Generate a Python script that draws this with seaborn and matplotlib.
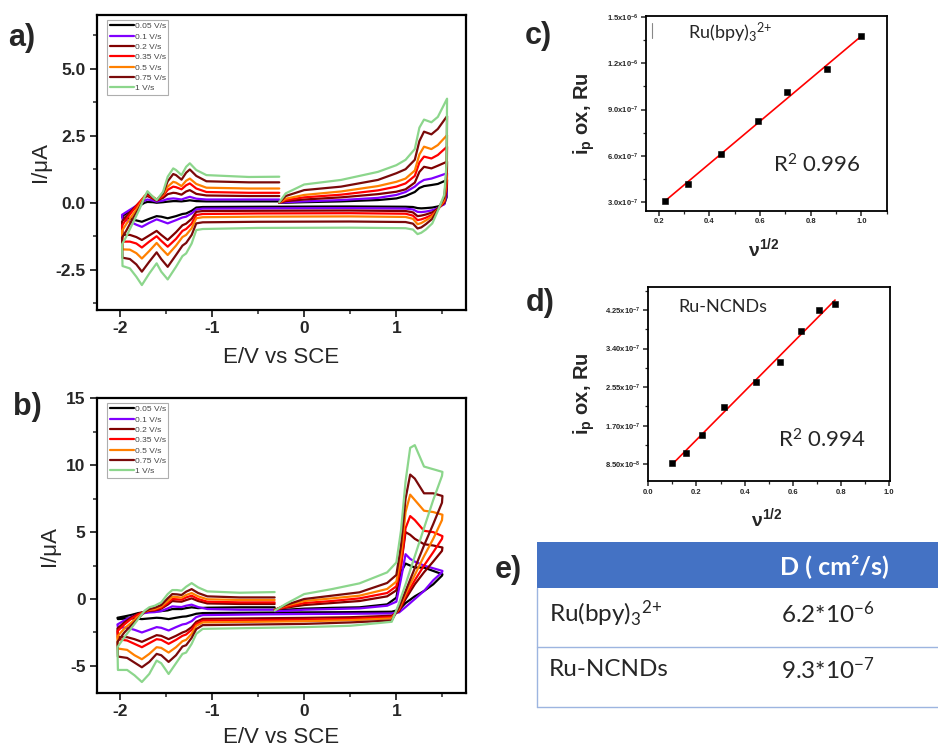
import numpy as np
import pandas as pd
import matplotlib
matplotlib.use("Agg")
import matplotlib.pyplot as plt
from matplotlib.patches import Rectangle
from matplotlib.ticker import MultipleLocator
import seaborn as sns

# ---------------- data ----------------
rates = ['0.05 V/s', '0.1 V/s', '0.2 V/s', '0.35 V/s', '0.5 V/s', '0.75 V/s', '1 V/s']
colors = ['#000000', '#8000FF', '#800000', '#FF0000', '#FF8000', '#7A0A0A', '#8CD68C']

# panel a: potential path of the CV scan (V vs SCE)
E_a = [-0.27, -0.2, 0.0, 0.4, 0.8, 1.0, 1.1, 1.2, 1.25, 1.3, 1.38, 1.45, 1.55,
       1.545, 1.52, 1.45, 1.39, 1.32, 1.27, 1.23, 1.18, 1.1, 0.5, -0.5, -1.1, -1.17, -1.22,
       -1.28, -1.32, -1.39, -1.48, -1.55, -1.6, -1.68, -1.76, -1.82, -1.89, -1.97,
       -1.975, -1.93, -1.86, -1.79, -1.73, -1.7, -1.64, -1.6, -1.53, -1.48, -1.42, -1.39,
       -1.33, -1.28, -1.24, -1.17, -1.06, -0.6, -0.27]
Ia_005 = [0.0, 0.0, 0.02, 0.05, 0.1, 0.16, 0.25, 0.4, 0.55, 0.62, 0.66, 0.7, 0.85,
          0.2, -0.05, -0.14, -0.18, -0.2, -0.21, -0.2, -0.16, -0.15, -0.14, -0.15, -0.16, -0.18,
          -0.3, -0.4, -0.42, -0.5, -0.58, -0.52, -0.5, -0.6, -0.71, -0.66, -0.6, -0.55,
          -0.5, -0.4, -0.25, -0.12, 0.0, 0.03, 0.02, 0.0, 0.02, 0.04, 0.06, 0.06, 0.05, 0.07,
          0.09, 0.06, 0.05, 0.05, 0.05]
Ia_010 = [0.0, 0.02, 0.05, 0.1, 0.18, 0.29, 0.4, 0.6, 0.75, 0.85, 0.9, 0.98, 1.1,
          0.3, -0.05, -0.2, -0.28, -0.33, -0.35, -0.34, -0.25, -0.22, -0.2, -0.21, -0.22, -0.25,
          -0.4, -0.52, -0.55, -0.65, -0.77, -0.68, -0.62, -0.75, -0.9, -0.82, -0.7, -0.62,
          -0.45, -0.35, -0.2, -0.05, 0.08, 0.12, 0.08, 0.04, 0.08, 0.14, 0.16, 0.15, 0.12, 0.18,
          0.22, 0.15, 0.12, 0.12, 0.12]
Ia_020 = [0.0, 0.06, 0.12, 0.2, 0.32, 0.41, 0.5, 0.75, 1.15, 1.34, 1.28, 1.38, 1.53,
          0.5, 0.0, -0.22, -0.36, -0.44, -0.48, -0.5, -0.36, -0.31, -0.29, -0.3, -0.31, -0.34,
          -0.6, -0.78, -0.84, -1.1, -1.39, -1.2, -1.05, -1.22, -1.39, -1.28, -1.2, -1.2,
          -0.7, -0.5, -0.25, 0.0, 0.2, 0.25, 0.15, 0.08, 0.18, 0.32, 0.37, 0.36, 0.3, 0.42,
          0.47, 0.33, 0.27, 0.25, 0.25]
Ia_035 = [0.0, 0.1, 0.2, 0.3, 0.46, 0.6, 0.72, 1.0, 1.5, 1.72, 1.65, 1.78, 2.09,
          0.7, 0.05, -0.25, -0.45, -0.56, -0.62, -0.65, -0.48, -0.41, -0.39, -0.4, -0.42, -0.46,
          -0.78, -0.98, -1.05, -1.35, -1.64, -1.42, -1.25, -1.45, -1.67, -1.52, -1.45, -1.45,
          -0.85, -0.62, -0.3, 0.0, 0.25, 0.3, 0.18, 0.1, 0.25, 0.48, 0.6, 0.58, 0.5, 0.65,
          0.72, 0.53, 0.4, 0.37, 0.37]
Ia_050 = [0.0, 0.15, 0.29, 0.42, 0.62, 0.78, 0.9, 1.2, 1.8, 2.09, 2.0, 2.15, 2.52,
          0.9, 0.1, -0.25, -0.5, -0.66, -0.76, -0.8, -0.6, -0.53, -0.51, -0.52, -0.54, -0.58,
          -0.95, -1.2, -1.28, -1.6, -1.95, -1.7, -1.5, -1.8, -2.08, -1.88, -1.75, -1.74,
          -1.05, -0.8, -0.45, -0.1, 0.25, 0.37, 0.22, 0.12, 0.3, 0.6, 0.78, 0.75, 0.62, 0.82,
          0.9, 0.7, 0.56, 0.53, 0.53]
Ia_075 = [0.0, 0.25, 0.47, 0.6, 0.85, 1.1, 1.25, 1.6, 2.3, 2.65, 2.55, 2.75, 3.23,
          1.2, 0.2, -0.25, -0.6, -0.8, -0.92, -0.96, -0.78, -0.72, -0.7, -0.71, -0.73, -0.77,
          -1.2, -1.5, -1.6, -1.95, -2.39, -2.1, -1.85, -2.2, -2.57, -2.3, -2.1, -2.05,
          -1.3, -1.05, -0.6, -0.2, 0.2, 0.36, 0.2, 0.1, 0.35, 0.8, 1.07, 1.03, 0.86, 1.12,
          1.24, 1.0, 0.8, 0.76, 0.76]
Ia_100 = [0.02, 0.35, 0.68, 0.85, 1.15, 1.40, 1.6, 2.0, 2.8, 3.1, 3.0, 3.2, 3.88,
          1.5, 0.3, -0.3, -0.77, -1.0, -1.12, -1.17, -1.0, -0.95, -0.93, -0.94, -0.98, -1.02,
          -1.52, -1.89, -1.99, -2.39, -2.86, -2.57, -2.26, -2.64, -3.07, -2.76, -2.45, -2.36,
          -1.55, -1.27, -0.77, -0.27, 0.22, 0.43, 0.22, 0.1, 0.41, 0.97, 1.28, 1.22, 1.03, 1.34,
          1.47, 1.22, 1.03, 0.96, 0.97]

# panel b
E_b = [-0.32, -0.2, 0.0, 0.3, 0.6, 0.9, 1.0, 1.05, 1.1, 1.15, 1.2, 1.3, 1.4, 1.5,
       1.495, 1.4, 1.3, 1.2, 1.1, 1.03, 0.95, 0.5, 0.0, -0.5, -1.1, -1.17, -1.22, -1.28,
       -1.32, -1.39, -1.47, -1.55, -1.6, -1.68, -1.76, -1.84, -1.92, -2.02,
       -2.025, -1.95, -1.88, -1.8, -1.73, -1.68, -1.62, -1.55, -1.48, -1.43, -1.38, -1.33,
       -1.28, -1.22, -1.15, -1.05, -0.7, -0.32]
Ib_005 = [-0.85, -0.8, -0.72, -0.66, -0.62, -0.4, 0.1, 2.0, 2.65, 2.5, 2.35, 2.35, 2.1, 1.85,
          1.75, 1.1, 0.6, 0.2, -0.3, -0.8, -0.95, -0.98, -1.0, -1.02, -1.05, -1.1, -1.2, -1.3,
          -1.32, -1.4, -1.5, -1.42, -1.4, -1.45, -1.5, -1.45, -1.45, -1.5,
          -1.4, -1.3, -1.2, -1.05, -0.98, -0.95, -0.93, -0.9, -0.85, -0.75, -0.75, -0.75,
          -0.68, -0.62, -0.68, -0.65, -0.62, -0.62]
Ib_010 = [-0.9, -0.88, -0.8, -0.75, -0.7, -0.5, -0.2, 1.5, 3.35, 3.0, 2.8, 2.5, 2.3, 2.1,
          2.0, 1.4, 0.6, 0.0, -0.6, -1.0, -1.08, -1.1, -1.12, -1.15, -1.2, -1.35, -1.65, -1.85,
          -1.9, -2.1, -2.35, -2.15, -2.1, -2.3, -2.5, -2.3, -2.15, -2.1,
          -1.9, -1.6, -1.35, -1.15, -1.05, -1.0, -0.98, -0.9, -0.7, -0.55, -0.58, -0.6,
          -0.5, -0.42, -0.6, -0.75, -0.8, -0.8]
Ib_020 = [-0.8, -0.65, -0.45, -0.3, -0.15, 0.2, 0.65, 2.5, 5.0, 4.8, 4.5, 4.1, 4.0, 3.85,
          3.6, 2.8, 2.0, 1.1, 0.0, -0.9, -1.25, -1.36, -1.41, -1.44, -1.48, -1.7, -2.1, -2.4,
          -2.5, -2.75, -3.0, -2.75, -2.7, -2.95, -3.2, -3.0, -2.85, -2.85,
          -2.2, -1.75, -1.4, -1.1, -0.95, -0.88, -0.85, -0.72, -0.42, -0.15, -0.18, -0.2,
          -0.08, 0.05, -0.15, -0.33, -0.37, -0.37]
Ib_035 = [-0.8, -0.6, -0.3, -0.15, 0.05, 0.45, 0.95, 2.5, 5.3, 6.2, 5.9, 5.1, 5.0, 4.7,
          4.5, 3.5, 2.5, 1.4, 0.2, -0.8, -1.35, -1.48, -1.54, -1.58, -1.62, -1.85, -2.3, -2.65,
          -2.75, -3.05, -3.35, -3.05, -3.0, -3.3, -3.6, -3.35, -3.1, -3.0,
          -2.4, -1.9, -1.5, -1.15, -0.95, -0.85, -0.8, -0.65, -0.3, 0.0, -0.02, -0.05,
          0.12, 0.25, 0.0, -0.2, -0.25, -0.25]
Ib_050 = [-0.8, -0.5, -0.15, 0.05, 0.25, 0.75, 1.3, 3.2, 6.5, 7.8, 7.4, 6.6, 6.5, 6.3,
          5.9, 4.5, 3.2, 1.8, 0.4, -0.7, -1.45, -1.58, -1.66, -1.7, -1.75, -2.0, -2.6, -3.05,
          -3.15, -3.6, -4.0, -3.65, -3.6, -4.1, -4.5, -4.2, -3.8, -3.7,
          -2.8, -2.2, -1.8, -1.3, -0.95, -0.8, -0.75, -0.55, -0.15, 0.17, 0.15, 0.1,
          0.3, 0.45, 0.2, -0.02, -0.07, -0.07]
Ib_075 = [-0.82, -0.45, 0.0, 0.25, 0.5, 1.2, 1.8, 4.0, 7.5, 9.3, 9.0, 7.9, 7.9, 7.7,
          7.2, 5.6, 4.0, 2.3, 0.6, -0.6, -1.6, -1.75, -1.86, -1.9, -1.95, -2.25, -2.9, -3.45,
          -3.55, -4.2, -4.7, -4.2, -4.1, -4.7, -5.1, -4.75, -4.4, -4.3,
          -3.2, -2.5, -2.0, -1.45, -0.95, -0.75, -0.65, -0.45, 0.05, 0.37, 0.35, 0.3,
          0.55, 0.74, 0.45, 0.2, 0.12, 0.12]
Ib_100 = [-0.87, -0.37, 0.37, 0.74, 1.17, 1.99, 2.73, 5.1, 8.8, 11.3, 11.5, 9.9, 9.7, 9.5,
          9.2, 7.4, 5.3, 3.2, 1.1, -0.3, -1.7, -2.0, -2.1, -2.16, -2.23, -2.6, -3.35, -4.0,
          -4.1, -4.8, -5.6, -4.8, -4.6, -5.6, -6.2, -5.7, -5.3, -5.3,
          -3.6, -2.85, -2.23, -1.5, -0.87, -0.62, -0.5, -0.25, 0.37, 0.67, 0.67, 0.62,
          0.92, 1.19, 0.87, 0.57, 0.47, 0.52]

# panel c: Ru(bpy)3 2+
c_x = [0.224, 0.316, 0.447, 0.592, 0.707, 0.866, 1.0]
c_y = [3.09e-7, 4.16e-7, 6.12e-7, 8.24e-7, 1.013e-6, 1.16e-6, 1.373e-6]
c_yticks = [3e-7, 6e-7, 9e-7, 1.2e-6, 1.5e-6]
c_ylabels = ['3.0x10$^{-7}$', '6.0x10$^{-7}$', '9.0x10$^{-7}$', '1.2x10$^{-6}$', '1.5x10$^{-6}$']
c_xticks = [0.2, 0.4, 0.6, 0.8, 1.0]

# panel d: Ru-NCNDs
d_x = [0.100, 0.158, 0.224, 0.316, 0.447, 0.548, 0.632, 0.707, 0.775]
d_y = [8.87e-8, 1.108e-7, 1.505e-7, 2.12e-7, 2.66e-7, 3.10e-7, 3.79e-7, 4.24e-7, 4.38e-7]
d_yticks = [8.5e-8, 1.7e-7, 2.55e-7, 3.4e-7, 4.25e-7]
d_ylabels = ['8.50x10$^{-8}$', '1.70x10$^{-7}$', '2.55x10$^{-7}$', '3.40x10$^{-7}$', '4.25x10$^{-7}$']
d_xticks = [0.0, 0.2, 0.4, 0.6, 0.8, 1.0]

# panel e: table
table_header = 'D ( cm²/s)'
table_names = ['Ru(bpy)$_3$$^{2{+}}$', 'Ru-NCNDs']
table_values = ['6.2*10$^{-6}$', '9.3*10$^{-7}$']

# ---------------- style ----------------
sns.set_style("ticks")
plt.rcParams['font.family'] = ['Liberation Sans', 'DejaVu Sans']
plt.rcParams['mathtext.default'] = 'regular'
plt.rcParams['axes.unicode_minus'] = False

W, H = 938, 748
fig = plt.figure(figsize=(W / 100, H / 100), dpi=100)


def rect(l, t, r, b):
    return [l / W, 1 - b / H, (r - l) / W, (b - t) / H]


def build_df(E, series):
    frames = []
    for lab, vals in zip(rates, series):
        assert len(vals) == len(E), (lab, len(vals), len(E))
        frames.append(pd.DataFrame({'E': E, 'I': vals, 'rate': lab}))
    return pd.concat(frames, ignore_index=True)


def cv_panel(ax, df, ylim, yticks, ylabels, yminor, ylab_x, xlab_y, leg_top):
    sns.lineplot(data=df, x='E', y='I', hue='rate', hue_order=rates, palette=colors,
                 sort=False, estimator=None, linewidth=1.6, ax=ax)
    ax.set_xlim(-2.25, 1.75)
    ax.set_ylim(*ylim)
    ax.set_xticks([-2, -1, 0, 1], ['-2', '-1', '0', '1'], fontsize=12.5, fontweight='bold')
    ax.set_yticks(yticks, ylabels, fontsize=12.5, fontweight='bold')
    ax.xaxis.set_minor_locator(MultipleLocator(0.5))
    ax.yaxis.set_minor_locator(MultipleLocator(yminor))
    ax.tick_params(which='major', direction='out', length=5, width=1.3, pad=3)
    ax.tick_params(which='minor', direction='out', length=3, width=1.1)
    for s in ax.spines.values():
        s.set_linewidth(1.6)
        s.set_color('black')
    ax.set_xlabel('E/V vs SCE', fontsize=16)
    ax.set_ylabel('I/μA', fontsize=16)
    ax.yaxis.set_label_coords(ylab_x, 0.5)
    ax.xaxis.set_label_coords(0.5, xlab_y)
    h, l = ax.get_legend_handles_labels()
    leg = ax.legend(h, l, loc='upper left', bbox_to_anchor=(0.028, leg_top), fontsize=6,
                    frameon=True, fancybox=False, edgecolor='#9a9a9a', handlelength=2.9,
                    handletextpad=0.1, labelspacing=0.3, borderpad=0.3, borderaxespad=0)
    leg.get_frame().set_linewidth(0.8)
    for t in leg.get_texts():
        t.set_color('#444444')


# panel a
ax_a = fig.add_axes(rect(96.7, 15, 465.5, 310))
df_a = build_df(E_a, [Ia_005, Ia_010, Ia_020, Ia_035, Ia_050, Ia_075, Ia_100])
cv_panel(ax_a, df_a, (-4, 7), [-2.5, 0, 2.5, 5.0], ['-2.5', '0.0', '2.5', '5.0'], 1.25,
         -0.125, -0.125, 0.983)

# panel b
ax_b = fig.add_axes(rect(96.7, 398.3, 465.5, 692.7))
df_b = build_df(E_b, [Ib_005, Ib_010, Ib_020, Ib_035, Ib_050, Ib_075, Ib_100])
cv_panel(ax_b, df_b, (-7, 15), [-5, 0, 5, 10, 15], ['-5', '0', '5', '10', '15'], 2.5,
         -0.10, -0.118, 0.984)


def lin_panel(ax, x, y, xlim, ylim, xticks, yticks, ylabels, xminor, yminor, title, r2,
              tpos, rpos, ylab_x, ylab_y):
    sns.regplot(x=x, y=y, ax=ax, scatter=False, ci=None, truncate=True,
                line_kws={'color': 'red', 'lw': 1.2})
    sns.scatterplot(x=x, y=y, ax=ax, marker='s', color='black', s=16, edgecolor='black',
                    linewidth=0.4, zorder=3)
    ax.set_xlim(*xlim)
    ax.set_ylim(*ylim)
    ax.set_xticks(xticks, [f'{v:.1f}' for v in xticks], fontsize=5.5, fontweight='bold')
    ax.set_yticks(yticks, ylabels, fontsize=5.5, fontweight='bold')
    ax.xaxis.set_minor_locator(MultipleLocator(xminor))
    ax.yaxis.set_minor_locator(MultipleLocator(yminor))
    ax.tick_params(which='major', direction='out', length=3.5, width=1.1, pad=2)
    ax.tick_params(which='minor', direction='out', length=2, width=0.9)
    for s in ax.spines.values():
        s.set_linewidth(1.3)
        s.set_color('black')
    ax.set_ylabel('i$_p$ ox, Ru', fontsize=14.5, fontweight='bold')
    ax.yaxis.set_label_coords(ylab_x, ylab_y)
    ax.set_xlabel('ν$^{1/2}$', fontsize=14, fontweight='bold')
    ax.xaxis.set_label_coords(0.49, -0.13)
    ax.text(tpos[0], tpos[1], title, transform=ax.transAxes, fontsize=13,
            family=['Lato', 'DejaVu Sans'], va='center', ha='left')
    ax.text(rpos[0], rpos[1], r2, transform=ax.transAxes, fontsize=16,
            family=['Lato', 'DejaVu Sans'], va='center', ha='left')


# panel c
ax_c = fig.add_axes(rect(646, 16, 886.7, 210.7))
lin_panel(ax_c, c_x, c_y, (0.15, 1.10), (2.46e-7, 1.505e-6), c_xticks, c_yticks, c_ylabels,
          0.1, 1.5e-7, 'Ru(bpy)$_3$$^{2{+}}$', 'R$^2$ 0.996', (0.174, 0.913), (0.528, 0.235),
          -0.205, 0.497)
ax_c.plot([0.024, 0.024], [0.887, 0.964], transform=ax_c.transAxes, color='#888888', lw=0.8)

# panel d
ax_d = fig.add_axes(rect(648.3, 287.3, 890, 481))
lin_panel(ax_d, d_x, d_y, (0.0, 1.003), (4.82e-8, 4.75e-7), d_xticks, d_yticks, d_ylabels,
          0.1, 4.25e-8, 'Ru-NCNDs', 'R$^2$ 0.994', (0.123, 0.898), (0.537, 0.212),
          -0.212, 0.45)

# panel e: table
ax_e = fig.add_axes(rect(530, 538, 938, 710))
ax_e.set_xlim(530, 938)
ax_e.set_ylim(710, 538)
ax_e.axis('off')
ax_e.add_patch(Rectangle((536.7, 541.7), 938 - 536.7, 46.6, color='#4472C4', lw=0))
line_c = '#9DB5E0'
ax_e.plot([536.7, 938], [646.7, 646.7], color=line_c, lw=1.0)
ax_e.plot([536.7, 938], [706.5, 706.5], color=line_c, lw=1.0)
ax_e.plot([537.2, 537.2], [588, 706.5], color=line_c, lw=1.0)
ax_e.text(780, 566.5, table_header, color='white', fontsize=18, fontweight='bold',
          family=['Lato', 'DejaVu Sans'], va='center', ha='left')
for yv, name, val in zip([614, 670], table_names, table_values):
    ax_e.text(549, yv, name, fontsize=17.5, family=['Lato', 'DejaVu Sans'], va='center', ha='left')
    ax_e.text(781, yv, val, fontsize=17.5, family=['Lato', 'DejaVu Sans'], va='center', ha='left')

# panel letters
for txt, x, y in [('a)', 8, 38), ('b)', 13, 407), ('c)', 525, 36), ('d)', 526, 303), ('e)', 495, 570)]:
    fig.text(x / W, 1 - y / H, txt, fontsize=22, fontweight='bold', va='center', ha='left')

fig.savefig('out.png', dpi=100)
